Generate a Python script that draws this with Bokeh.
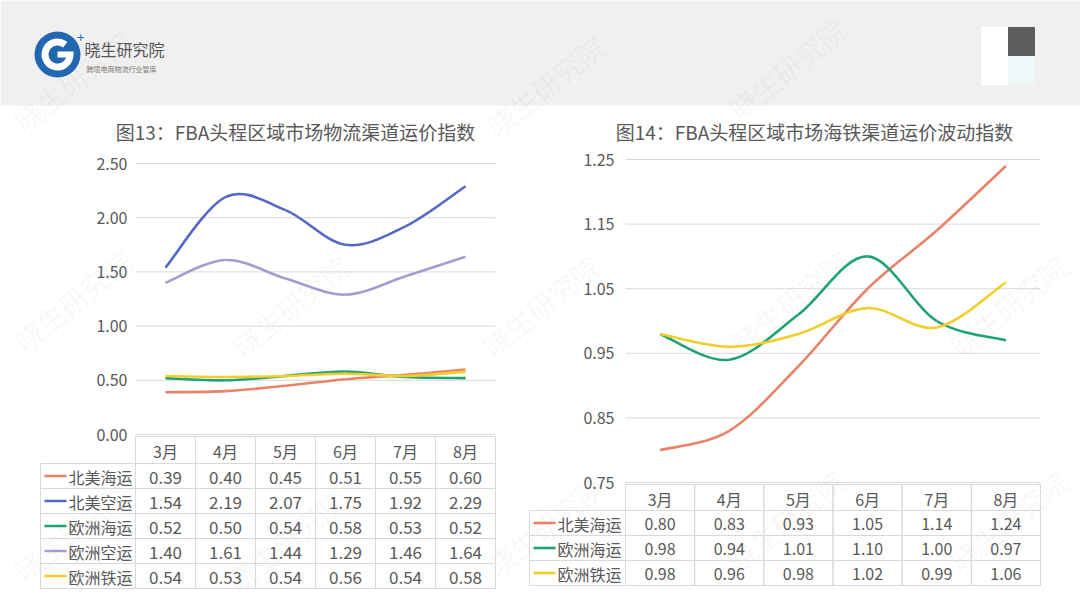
from bokeh.plotting import figure
from bokeh.models import Range1d, ColumnDataSource
from bokeh.core.properties import value
from bokeh.embed import file_html
from bokeh.resources import INLINE

# ---------------- data ----------------
months = ["3月", "4月", "5月", "6月", "7月", "8月"]

left_title = "图13：FBA头程区域市场物流渠道运价指数"
left_names = ["北美海运", "北美空运", "欧洲海运", "欧洲空运", "欧洲铁运"]
left_na_sea = [0.39, 0.40, 0.45, 0.51, 0.55, 0.60]
left_na_air = [1.54, 2.19, 2.07, 1.75, 1.92, 2.29]
left_eu_sea = [0.52, 0.50, 0.54, 0.58, 0.53, 0.52]
left_eu_air = [1.40, 1.61, 1.44, 1.29, 1.46, 1.64]
left_eu_rail = [0.54, 0.53, 0.54, 0.56, 0.54, 0.58]
left_ticks = [0.0, 0.5, 1.0, 1.5, 2.0, 2.5]

right_title = "图14：FBA头程区域市场海铁渠道运价波动指数"
right_names = ["北美海运", "欧洲海运", "欧洲铁运"]
right_na_sea = [0.80, 0.83, 0.93, 1.05, 1.14, 1.24]
right_eu_sea = [0.98, 0.94, 1.01, 1.10, 1.00, 0.97]
right_eu_rail = [0.98, 0.96, 0.98, 1.02, 0.99, 1.06]
right_ticks = [0.75, 0.85, 0.95, 1.05, 1.15, 1.25]

COL = {"北美海运": "#E8836A", "北美空运": "#5468C4", "欧洲海运": "#1FA177",
       "欧洲空运": "#A99BD0", "欧洲铁运": "#F2CE2A"}

FONT = "Noto Sans CJK SC"
TXT = "#595959"
GRID = "#d9d9d9"
W, H = 1080, 608


def smooth(ys):
    n = len(ys)
    xs = list(range(n))
    d = dict(x0=[], y0=[], x1=[], y1=[], cx0=[], cy0=[], cx1=[], cy1=[])
    for i in range(n - 1):
        a = max(i - 1, 0)
        b = min(i + 2, n - 1)
        d["x0"].append(xs[i]); d["y0"].append(ys[i])
        d["x1"].append(xs[i + 1]); d["y1"].append(ys[i + 1])
        d["cx0"].append(xs[i] + (xs[i + 1] - xs[a]) / 6.0)
        d["cy0"].append(ys[i] + (ys[i + 1] - ys[a]) / 6.0)
        d["cx1"].append(xs[i + 1] - (xs[b] - xs[i]) / 6.0)
        d["cy1"].append(ys[i + 1] - (ys[b] - ys[i]) / 6.0)
    return d


def xrange_for(px_left, px_right, n):
    unit = (px_right - px_left) / n
    return Range1d(-0.5 - px_left / unit, n - 0.5 + (W - px_right) / unit)


def yrange_for(v0, py0, v1, py1):
    k = (py0 - py1) / (v1 - v0)
    return Range1d(v0 - (H - py0) / k, v1 + py1 / k)


p = figure(width=W, height=H, x_range=Range1d(0, W), y_range=Range1d(H, 0),
           output_backend="svg", toolbar_location=None,
           x_axis_location=None, y_axis_location=None, min_border=0)
p.outline_line_color = None
p.background_fill_color = "white"
p.border_fill_color = "white"
p.xgrid.visible = False
p.ygrid.visible = False

p.extra_x_ranges = {"lx": xrange_for(135, 495, 6), "rx": xrange_for(625, 1040, 6)}
p.extra_y_ranges = {"ly": yrange_for(left_ticks[0], 434, left_ticks[-1], 163),
                    "ry": yrange_for(right_ticks[0], 482, right_ticks[-1], 159)}

# ---------------- header band + watermark ----------------
p.quad(left=[0], right=[W], top=[0], bottom=[105], fill_color="#f0f0f0", line_color=None)

wm_x = [72, 545, 787, 72, 290, 540, 790, 1008, 72, 285, 545, 785, 1008]
wm_y = [80, 85, 68, 300, 305, 305, 300, 305, 530, 540, 525, 520, 520]
p.text(x=wm_x, y=wm_y, text=["晓生研究院"] * len(wm_x), angle=0.68,
       text_align="center", text_baseline="middle", text_font=value(FONT),
       text_font_size="28px", text_color="#000000", text_alpha=0.045)

# logo
p.circle(x=[57], y=[54], radius=23, fill_color="#2267b0", line_color=None)
p.annular_wedge(x=[57], y=[54], inner_radius=9, outer_radius=16,
                start_angle=0.9, end_angle=6.1, fill_color="white", line_color=None)
p.rect(x=[65], y=[54], width=16, height=6, fill_color="white", line_color=None)
p.text(x=[80], y=[36], text=["+"], text_align="center", text_baseline="middle",
       text_font=value(FONT), text_font_size="13px", text_color="#2267b0")
p.text(x=[84], y=[48], text=["晓生研究院"], text_align="left", text_baseline="middle",
       text_font=value(FONT), text_font_size="16px", text_color="#555555")
p.text(x=[86], y=[68], text=["跨境电商物流行业智库"], text_align="left",
       text_baseline="middle", text_font=value(FONT), text_font_size="7px",
       text_color="#777777")
p.rect(x=[994, 1021, 994, 1021], y=[41, 41, 70, 70], width=27, height=29,
       fill_color=["#ffffff", "#5c5c5c", "#ffffff", "#eef8f8"], line_color=None)


def panel(xr, yr, ticks, title, title_x, tick_right, series,
          lab_left, lab_right, head_top, head_bot, row_h, val_size):
    # title
    p.text(x=[title_x], y=[131], text=[title], text_align="center", text_baseline="middle",
           text_font=value(FONT), text_font_size="19px", text_color=TXT)
    # grid lines and tick labels
    p.segment(x0=[-0.5] * len(ticks), x1=[5.5] * len(ticks), y0=ticks, y1=ticks,
              x_range_name=xr, y_range_name=yr, line_color=GRID, line_width=1)
    p.text(x=[tick_right] * len(ticks), y=ticks, text=["%.2f" % t for t in ticks],
           y_range_name=yr, text_align="right", text_baseline="middle",
           text_font=value(FONT), text_font_size="16px", text_color=TXT)
    # smooth lines
    for name, ys in series:
        p.bezier(source=ColumnDataSource(smooth(ys)), x0="x0", y0="y0", x1="x1", y1="y1",
                 cx0="cx0", cy0="cy0", cx1="cx1", cy1="cy1",
                 x_range_name=xr, y_range_name=yr,
                 line_color=COL[name], line_width=2.6)
    # data table
    idx = list(range(len(months)))
    hc = (head_top + head_bot) / 2
    p.rect(x=idx, y=[hc] * 6, width=1, height=head_bot - head_top, x_range_name=xr,
           fill_color=None, line_color=GRID, line_width=1)
    p.text(x=idx, y=[hc + 1] * 6, text=months, x_range_name=xr, text_align="center",
           text_baseline="middle", text_font=value(FONT), text_font_size="16px",
           text_color=TXT)
    for r, (name, ys) in enumerate(series):
        cy = head_bot + row_h * (r + 0.5)
        p.rect(x=[(lab_left + lab_right) / 2], y=[cy], width=lab_right - lab_left,
               height=row_h, fill_color=None, line_color=GRID, line_width=1)
        p.rect(x=idx, y=[cy] * 6, width=1, height=row_h, x_range_name=xr,
               fill_color=None, line_color=GRID, line_width=1)
        p.segment(x0=[lab_left + 4], y0=[cy], x1=[lab_left + 26], y1=[cy],
                  line_color=COL[name], line_width=2.6)
        p.text(x=[lab_left + 28], y=[cy + 1], text=[name], text_align="left",
               text_baseline="middle", text_font=value(FONT), text_font_size="16px",
               text_color=TXT)
        p.text(x=idx, y=[cy + 1] * 6, text=["%.2f" % v for v in ys], x_range_name=xr,
               text_align="center", text_baseline="middle", text_font=value(FONT),
               text_font_size=val_size, text_color=TXT)


left_series = list(zip(left_names, [left_na_sea, left_na_air, left_eu_sea,
                                     left_eu_air, left_eu_rail]))
right_series = list(zip(right_names, [right_na_sea, right_eu_sea, right_eu_rail]))

panel("lx", "ly", left_ticks, left_title, 295, 127, left_series,
      40, 135, 436, 463, 25, "17px")
panel("rx", "ry", right_ticks, right_title, 814, 614, right_series,
      529, 625, 484, 510, 25, "16px")

open("out.html", "w").write(file_html(p, INLINE))
